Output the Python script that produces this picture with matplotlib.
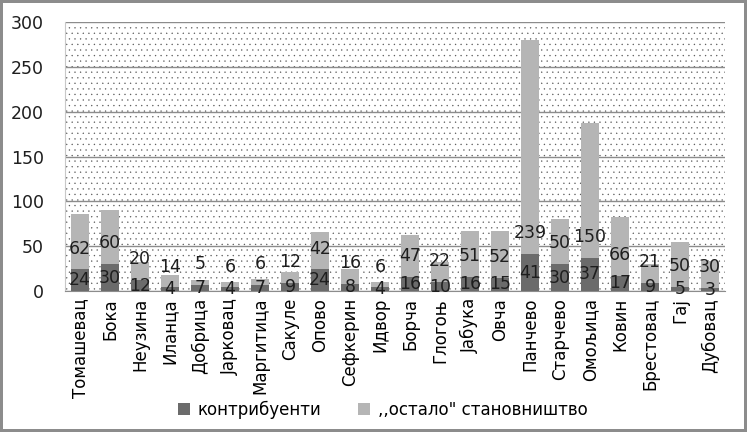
import matplotlib.pyplot as plt
import matplotlib.patches as mpatches
import numpy as np

plt.rcParams['font.family'] = ['DejaVu Sans']
plt.rcParams['hatch.linewidth'] = 0.2

# насеља и број становника по групама
naselja = ['Томашевац', 'Бока', 'Неузина', 'Иланца', 'Добрица', 'Јарковац', 'Маргитица',
           'Сакуле', 'Опово', 'Сефкерин', 'Идвор', 'Борча', 'Глогоњ', 'Јабука', 'Овча',
           'Панчево', 'Старчево', 'Омољица', 'Ковин', 'Брестовац', 'Гај', 'Дубовац']
kontribuenti = [24, 30, 12, 4, 7, 4, 7, 9, 24, 8, 4, 16, 10, 16, 15, 41, 30, 37, 17, 9, 5, 3]
ostalo = [62, 60, 20, 14, 5, 6, 6, 12, 42, 16, 6, 47, 22, 51, 52, 239, 50, 150, 66, 21, 50, 30]

boja_tamna = '#6b6b6b'
boja_svetla = '#b5b5b5'

fig = plt.figure(figsize=(7.47, 4.32), dpi=100)
fig.patch.set_edgecolor('#8c8c8c')
fig.patch.set_linewidth(3)
ax = fig.add_axes([65 / 747, 1 - 291 / 432, 660 / 747, 269 / 432])

# тачкаста позадина
pozadina = mpatches.Rectangle((0, 0), 1, 1, transform=ax.transAxes, facecolor='white',
                              edgecolor='#555555', hatch='...', linewidth=0, zorder=0)
ax.add_patch(pozadina)

x = np.arange(len(naselja))
ax.bar(x, kontribuenti, width=0.6, color=boja_tamna, zorder=3, label='контрибуенти')
ax.bar(x, ostalo, width=0.6, bottom=kontribuenti, color=boja_svetla, zorder=3,
       label=',,остало" становништво')

# ознаке вредности
for i in range(len(naselja)):
    ax.text(x[i], kontribuenti[i] / 2, str(kontribuenti[i]), ha='center', va='center',
            fontsize=12.5, color='#1e1e1e', zorder=5)
    ax.annotate(str(ostalo[i]), (x[i], kontribuenti[i]), xytext=(0, 15),
                textcoords='offset points', ha='center', va='center',
                fontsize=12.5, color='#1e1e1e', zorder=5)

ax.set_xlim(-0.5, len(naselja) - 0.5)
ax.set_ylim(0, 300)
ax.set_yticks(range(0, 301, 50))
ax.yaxis.grid(True, color='#8c8c8c', linewidth=1, zorder=1)
ax.set_axisbelow(True)
for s in ['top', 'right']:
    ax.spines[s].set_visible(False)
ax.spines['left'].set_color('#c8c8c8')
ax.spines['bottom'].set_color('#8c8c8c')
ax.tick_params(axis='y', length=0, pad=15, labelsize=12.5, labelcolor='#1e1e1e')
ax.tick_params(axis='x', length=0, pad=5, labelsize=12)
ax.set_xticks(x)
ax.set_xticklabels(naselja, rotation=90)

fig.legend(loc='center', bbox_to_anchor=(383 / 747, 1 - 410 / 432), ncol=2, frameon=False,
           fontsize=12, handlelength=0.7, handleheight=0.7, columnspacing=2.2, handletextpad=0.5)

fig.savefig('out.png', dpi=100)
